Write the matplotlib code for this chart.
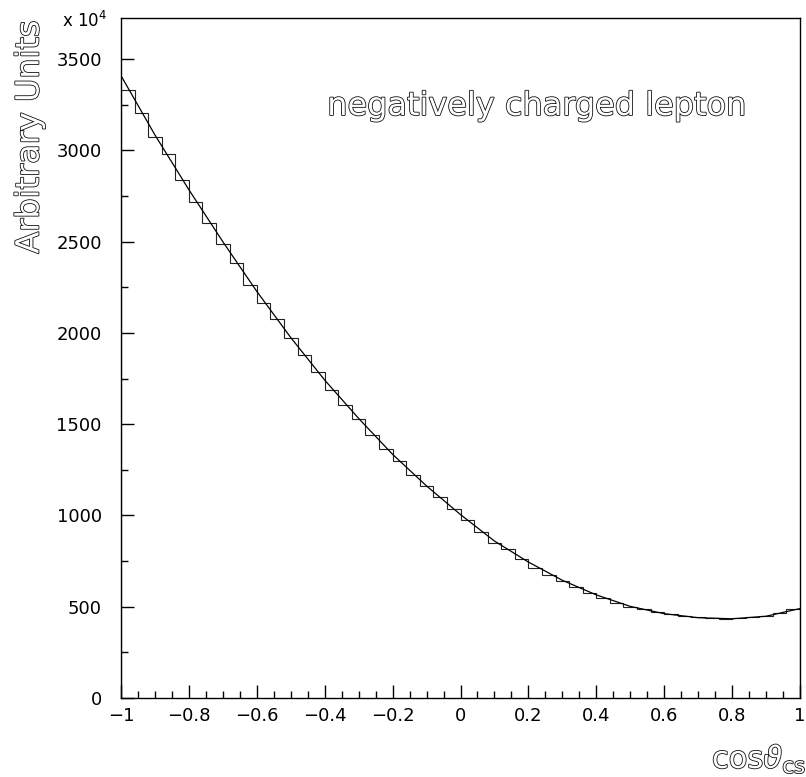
#!/usr/bin/env python3
"""
Histogram of cos(theta_CS) for the negatively charged lepton, with the
fitted angular distribution drawn on top (PAW-like look).
"""

import matplotlib
matplotlib.use("Agg")
import matplotlib.pyplot as plt
import matplotlib.patheffects as pe
from matplotlib.ticker import MultipleLocator
import numpy as np

# histogram contents, 50 bins from -1 to 1 (units of 10^4)
hist_values = [
    3334, 3208, 3075, 2980, 2837, 2720, 2603, 2490, 2384, 2262,
    2162, 2074, 1970, 1880, 1787, 1689, 1607, 1530, 1441, 1362,
    1296, 1220, 1163, 1103, 1035, 975, 911, 847, 814, 761,
    714, 674, 641, 606, 573, 546, 519, 497, 486, 469,
    458, 449, 442, 438, 434, 438, 444, 451, 467, 487,
]

# fitted curve, read at steps of 0.1 in cos(theta)
curve_x = [-1.0, -0.9, -0.8, -0.7, -0.6, -0.5, -0.4, -0.3, -0.2, -0.1, 0.0,
           0.1, 0.2, 0.3, 0.4, 0.5, 0.6, 0.7, 0.8, 0.9, 1.0]
curve_y = [3410, 3085, 2785, 2500, 2228, 1975, 1742, 1532, 1335, 1162, 1005,
           860, 745, 645, 565, 502, 462, 440, 434, 448, 490]

x_ticks = [-1, -0.8, -0.6, -0.4, -0.2, 0, 0.2, 0.4, 0.6, 0.8, 1]
x_tick_labels = ["\u22121", "\u22120.8", "\u22120.6", "\u22120.4", "\u22120.2",
                 "0", "0.2", "0.4", "0.6", "0.8", "1"]
y_ticks = [0, 500, 1000, 1500, 2000, 2500, 3000, 3500]
y_tick_labels = ["0", "500", "1000", "1500", "2000", "2500", "3000", "3500"]

annotation = "negatively charged lepton"
y_label = "Arbitrary Units"
x_label = r"cos$\vartheta_{\rm cs}$"
exponent_note = r"x 10$^{4}$"

W, H = 806, 777
fig = plt.figure(figsize=(W / 100, H / 100), dpi=100)
ax = fig.add_axes([121 / W, 1 - 698 / H, 679 / W, 680 / H])

edges = np.linspace(-1, 1, len(hist_values) + 1)
ax.stairs(hist_values, edges, baseline=0, color="#222222", linewidth=0.8)
ax.plot(curve_x, curve_y, color="black", linewidth=0.9)

ax.set_xlim(-1, 1)
ax.set_ylim(0, 3726)

ax.set_xticks(x_ticks)
ax.set_xticklabels(x_tick_labels)
ax.set_yticks(y_ticks)
ax.set_yticklabels(y_tick_labels)
ax.xaxis.set_minor_locator(MultipleLocator(0.05))
ax.yaxis.set_minor_locator(MultipleLocator(250))

ax.tick_params(axis="both", which="both", direction="in", top=False, right=False,
               width=1.0, labelsize=13)
ax.tick_params(axis="both", which="major", length=9.6)
ax.tick_params(axis="both", which="minor", length=4.8)
ax.tick_params(axis="x", which="major", pad=6.8)
ax.tick_params(axis="y", which="major", pad=13.9)

for sp in ax.spines.values():
    sp.set_linewidth(1.0)

# PAW draws these labels with an outlined (hollow) font
hollow = [pe.withStroke(linewidth=1.2, foreground="#111111")]

fig.text(537 / W, 1 - 115 / H, annotation, fontsize=23, ha="center",
         va="baseline", color="white", path_effects=hollow)

fig.text(30 / W, 1 - 20 / H, y_label, fontsize=23, rotation=90, ha="center",
         va="top", color="white", path_effects=hollow)

fig.text(806 / W, 1 - 768 / H, x_label, fontsize=22, ha="right",
         va="baseline", color="white", path_effects=hollow)

fig.text(62 / W, 1 - 27 / H, exponent_note, fontsize=12, ha="left",
         va="baseline")

fig.savefig("out.png", dpi=100)
plt.close(fig)
